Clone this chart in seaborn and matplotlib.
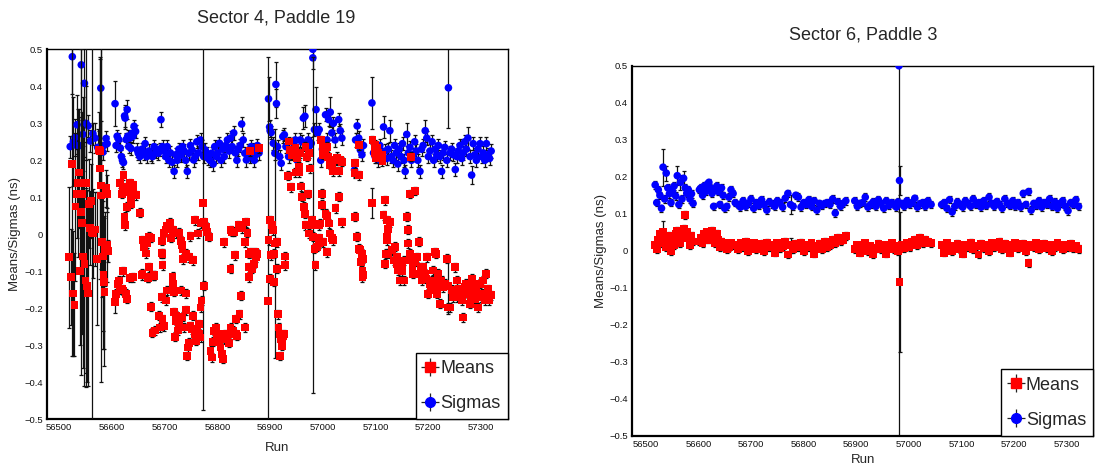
import numpy as np
import pandas as pd
import matplotlib
matplotlib.use("Agg")
import matplotlib.pyplot as plt
from matplotlib.ticker import MultipleLocator, FuncFormatter
import seaborn as sns

# ======================= Sector 4, Paddle 19 (left) =======================
L_MEAN_RUNS = [
    # noisy start
    56519, 56522, 56525, 56527, 56529, 56531, 56533, 56535, 56537, 56539,
    56541, 56543, 56544, 56546, 56548, 56550, 56551, 56553, 56555, 56557,
    56559, 56560, 56562, 56564, 56568, 56572, 56576, 56577, 56578, 56579,
    56580, 56581, 56583, 56584, 56585, 56586, 56587, 56589, 56590, 56591, 56592,
    # upper group 56615-56654
    56615, 56619, 56620, 56622, 56624, 56625, 56626, 56629, 56632, 56635,
    56636, 56637, 56640, 56641, 56645, 56654,
    # lower group 56606-56680
    56606, 56607, 56611, 56613, 56615, 56619, 56621, 56622, 56626, 56629,
    56634, 56640, 56657, 56668, 56671, 56680,
    # near-zero group 56658-56784
    56658, 56661, 56664, 56667, 56671, 56674, 56694, 56695, 56696, 56699,
    56702, 56705, 56710, 56712, 56716, 56722, 56727, 56731, 56733, 56734,
    56735, 56740, 56746, 56749, 56753, 56758, 56763, 56768, 56771, 56773,
    56775, 56778, 56781, 56784,
    # deep group 56658-56774
    56658, 56668, 56674, 56677, 56680, 56681, 56690, 56691, 56695, 56696,
    56696, 56699, 56702, 56705, 56715, 56716, 56718, 56718, 56719, 56721,
    56722, 56725, 56727, 56731, 56734, 56736, 56740, 56740, 56742, 56744,
    56746, 56749, 56752, 56754, 56757, 56759, 56762, 56765, 56766, 56768,
    56768, 56770, 56774,
    # deep group 56787-56853
    56787, 56789, 56792, 56794, 56797, 56800, 56803, 56806, 56809, 56811,
    56812, 56814, 56819, 56822, 56825, 56829, 56831, 56835, 56836, 56838,
    56842, 56844, 56853,
    # near-zero group 56812-56879
    56812, 56825, 56825, 56828, 56831, 56834, 56840, 56847, 56853, 56855,
    56857, 56859, 56860, 56860, 56862, 56863, 56866, 56868, 56869, 56872,
    56874, 56875, 56879,
    # 56896-56929
    56896, 56897, 56899, 56899, 56901, 56903, 56905, 56908, 56908, 56910,
    56913, 56913, 56915, 56916, 56918, 56918, 56920, 56922, 56923, 56924,
    56926, 56928, 56929,
    # 56934-57036
    56934, 56935, 56938, 56940, 56942, 56948, 56948, 56951, 56954, 56955,
    56957, 56959, 56961, 56964, 56966, 56967, 56967, 56970, 56972, 56973,
    56974, 56976, 56979, 56981, 56982, 56984, 56986, 56989, 56992, 56993,
    56993, 56995, 56997, 56998, 56999, 57000, 57001, 57001, 57005, 57005,
    57008, 57008, 57008, 57010, 57011, 57014, 57014, 57017, 57017, 57020,
    57020, 57024, 57024, 57027, 57030, 57031, 57033, 57036, 57036,
    # 57060-57093
    57060, 57061, 57061, 57065, 57068, 57068, 57068, 57071, 57073, 57074,
    57075, 57075, 57077, 57077, 57093,
    # high points 57094-57175
    57094, 57098, 57099, 57101, 57102, 57105, 57109, 57112, 57113, 57165,
    57167, 57175,
    # falling band 57115-57318
    57115, 57118, 57118, 57119, 57121, 57121, 57122, 57124, 57124, 57127,
    57131, 57134, 57137, 57140, 57140, 57143, 57146, 57150, 57150, 57153,
    57154, 57159, 57162, 57162, 57165, 57168, 57170, 57171, 57175, 57178,
    57182, 57184, 57185, 57187, 57190, 57194, 57195, 57197, 57200, 57203,
    57205, 57206, 57209, 57213, 57214, 57215, 57216, 57219, 57220, 57222,
    57225, 57228, 57231, 57235, 57237, 57238, 57241, 57245, 57247, 57250,
    57254, 57255, 57257, 57260, 57263, 57265, 57266, 57269, 57272, 57275,
    57279, 57280, 57282, 57285, 57288, 57290, 57291, 57294, 57298, 57300,
    57301, 57304, 57307, 57310, 57310, 57313, 57315, 57318,
]
L_MEANS = [
    -0.062, -0.116, 0.19, -0.16, -0.19, 0.075, 0.11, 0.138, 0.167, -0.1,
    0.06, 0.03, 0.11, -0.06, -0.08, -0.125, 0.138, -0.14, -0.16, 0.083,
    0.016, 0.09, 0.005, 0.003, 0.013, -0.066, 0.228, 0.225, 0.178, 0.132,
    0.105, -0.02, -0.06, -0.11, -0.13, -0.155, -0.04, 0.125, 0.11, -0.03, -0.045,
    0.138, 0.11, 0.128, 0.16, 0.047, 0.024, 0.128, 0.074, 0.115, 0.138,
    0.083, 0.1, 0.133, 0.125, 0.106, 0.058,
    -0.184, -0.161, -0.134, -0.125, -0.148, -0.148, -0.1, -0.152, -0.161, -0.175,
    -0.118, -0.116, -0.111, -0.118, -0.089, -0.111,
    -0.016, -0.034, -0.052, -0.025, -0.007, -0.01, -0.051, -0.017, -0.053, 0.004,
    0.013, 0.022, 0.031, -0.01, 0.011, 0.002, 0.004, -0.017, -0.03, -0.04,
    -0.067, -0.053, -0.062, -0.005, -0.07, 0.038, 0.002, 0.029, 0.03, 0.085,
    0.033, 0.02, 0.007, -0.007,
    -0.107, -0.116, -0.196, -0.266, -0.112, -0.26, -0.22, -0.252, -0.17, -0.23,
    -0.084, -0.248, -0.179, -0.152, -0.114, -0.134, -0.156, -0.21, -0.277, -0.22,
    -0.234, -0.26, -0.243, -0.152, -0.223, -0.252, -0.205, -0.16, -0.329, -0.306,
    -0.293, -0.248, -0.257, -0.22, -0.27, -0.288, -0.26, -0.243, -0.27, -0.279,
    -0.198, -0.179, -0.139,
    -0.315, -0.333, -0.29, -0.261, -0.252, -0.27, -0.288, -0.306, -0.324, -0.337,
    -0.284, -0.27, -0.275, -0.293, -0.252, -0.261, -0.27, -0.229, -0.27, -0.275,
    -0.216, -0.166, -0.252,
    -0.021, 0.011, -0.093, 0.007, 0.007, -0.057, 0.024, 0.016, -0.021, 0.033,
    0.004, -0.053, -0.089, -0.116, 0.224, -0.048, -0.093, -0.053, -0.08, -0.048,
    -0.062, -0.053, 0.233,
    -0.181, -0.016, 0.038, -0.12, -0.057, 0.024, 0.011, -0.053, -0.129, -0.025,
    -0.021, -0.093, -0.216, -0.252, -0.27, -0.329, -0.284, -0.29, -0.302, -0.275,
    -0.27, -0.084, -0.06,
    0.158, 0.251, 0.228, 0.127, 0.215, 0.233, 0.167, 0.206, 0.183, 0.167,
    0.219, 0.129, 0.101, 0.074, 0.056, 0.237, 0.024, 0.21, 0.109, 0.219,
    0.002, 0.178, 0.038, 0.025, -0.007, -0.039, -0.084, -0.034, -0.025, 0.024,
    -0.01, 0.029, 0.255, 0.11, 0.08, 0.233, 0.215, -0.021, 0.228, 0.056,
    0.237, 0.05, -0.048, 0.21, 0.029, 0.188, 0.002, 0.192, -0.01, 0.17,
    -0.016, 0.2, 0.07, 0.206, 0.17, 0.101, 0.2, 0.196, 0.033,
    0.165, 0.192, 0.047, -0.007, 0.241, 0.16, -0.039, -0.043, -0.075, -0.053,
    -0.098, -0.116, -0.066, -0.111, 0.085,
    0.255, 0.219, 0.242, 0.206, 0.233, 0.219, 0.21, 0.214, 0.197, 0.109,
    0.21, 0.117,
    0.052, 0.092, -0.08, -0.053, 0.038, -0.016, -0.007, 0.015, -0.053, 0.033,
    -0.043, -0.071, -0.034, -0.062, -0.08, -0.098, -0.125, -0.089, -0.1, -0.125,
    -0.071, 0.047, 0.012, -0.025, -0.053, -0.071, -0.09, -0.107, -0.075, -0.062,
    -0.02, -0.107, -0.09, -0.125, -0.089, -0.107, -0.12, -0.062, -0.161, -0.134,
    -0.14, -0.125, -0.098, -0.048, -0.053, -0.15, -0.161, -0.107, -0.13, -0.188,
    -0.125, -0.143, -0.134, -0.066, -0.14, -0.198, -0.198, -0.15, -0.17, -0.089,
    -0.125, -0.17, -0.148, -0.161, -0.179, -0.15, -0.225, -0.143, -0.134, -0.161,
    -0.188, -0.17, -0.12, -0.143, -0.175, -0.15, -0.161, -0.198, -0.134, -0.17,
    -0.161, -0.125, -0.179, -0.107, -0.16, -0.148, -0.179, -0.165,
]
L_MEAN_ERR_TYPICAL = 0.012
L_MEAN_BIG_RUNS = [
    56519, 56522, 56525, 56527, 56529, 56531, 56533, 56535, 56537, 56539,
    56541, 56543, 56544, 56546, 56548, 56550, 56551, 56553, 56555, 56557,
    56559, 56560, 56562, 56564, 56568, 56572, 56576, 56577, 56578, 56579,
    56580, 56581, 56583, 56584, 56585, 56586, 56587, 56589, 56590, 56591, 56592,
    56606, 56773, 56896, 56910, 56981, 57093, 57237,
]
L_MEAN_BIG_ERRS = [
    0.19, 0.13, 0.52, 0.17, 0.14, 0.2, 0.12, 0.2, 0.15, 0.2,
    0.44, 0.3, 0.2, 0.3, 0.33, 0.25, 0.55, 0.26, 0.25, 0.12,
    0.1, 0.1, 0.55, 0.12, 0.1, 0.18, 0.05, 0.25, 0.3, 0.53,
    0.2, 0.15, 0.2, 0.2, 0.18, 0.2, 0.1, 0.05, 0.05, 0.1, 0.03,
    0.03, 0.56, 0.66, 0.31, 0.455, 0.04, 0.075,
]

L_SIG_RUNS = [
    56521, 56525, 56527, 56530, 56534, 56535, 56538, 56542, 56545, 56548,
    56551, 56555, 56559, 56564, 56568, 56573, 56576, 56579, 56583, 56585,
    56589, 56591,
    56606, 56608, 56610, 56613, 56616, 56618, 56620, 56622, 56624, 56625,
    56627, 56629, 56630, 56632, 56634, 56636, 56638, 56640, 56642, 56645,
    56648, 56650, 56653, 56657, 56660, 56663, 56666, 56670, 56674, 56677,
    56680, 56684, 56688, 56691, 56693, 56696, 56699, 56702, 56705, 56708,
    56711, 56714, 56718, 56721, 56724, 56727, 56731, 56734, 56737, 56740,
    56743, 56746, 56749, 56752, 56755, 56758, 56761, 56764, 56768, 56771,
    56774, 56777, 56780, 56783, 56786, 56789, 56792, 56795, 56798, 56801,
    56804, 56807, 56810, 56813, 56816, 56819, 56822, 56825, 56828, 56831,
    56834, 56837, 56840, 56843, 56846, 56849, 56852, 56855, 56858, 56861,
    56864, 56867, 56870, 56873, 56876, 56879,
    56897, 56899, 56900, 56902, 56906, 56909, 56911, 56912, 56914, 56918,
    56921, 56924, 56927, 56930, 56935, 56940, 56945, 56948, 56951, 56954,
    56957, 56960, 56963, 56966, 56969, 56972, 56975, 56978, 56981, 56981,
    56984, 56987, 56990, 56993, 56996, 56999, 57002, 57005, 57008, 57011,
    57014, 57017, 57020, 57023, 57026, 57030, 57033, 57036,
    57060, 57062, 57065, 57068, 57071, 57074, 57077,
    57093, 57096, 57099, 57102, 57105, 57108, 57111, 57115, 57118, 57121,
    57124, 57127, 57130, 57133, 57136, 57139, 57142, 57145, 57148, 57151,
    57154, 57156, 57159, 57162, 57165, 57168, 57171, 57174, 57177, 57180,
    57184, 57187, 57190, 57194, 57197, 57200, 57203, 57207, 57210, 57213,
    57216, 57219, 57222, 57225, 57228, 57231, 57235, 57238, 57241, 57244,
    57247, 57251, 57254, 57257, 57260, 57263, 57266, 57269, 57272, 57275,
    57279, 57282, 57285, 57288, 57291, 57294, 57298, 57301, 57304, 57307,
    57310, 57313, 57316, 57319,
]
L_SIGMAS = [
    0.237, 0.48, 0.25, 0.262, 0.296, 0.237, 0.24, 0.458, 0.27, 0.408,
    0.3, 0.293, 0.252, 0.272, 0.26, 0.235, 0.23, 0.395, 0.222, 0.24,
    0.259, 0.245,
    0.353, 0.24, 0.265, 0.256, 0.233, 0.21, 0.2, 0.194, 0.32, 0.314,
    0.256, 0.337, 0.265, 0.237, 0.26, 0.232, 0.273, 0.265, 0.292, 0.278,
    0.228, 0.219, 0.21, 0.23, 0.22, 0.245, 0.21, 0.225, 0.215, 0.21,
    0.237, 0.225, 0.219, 0.23, 0.31, 0.237, 0.225, 0.21, 0.237, 0.2,
    0.22, 0.195, 0.17, 0.215, 0.2, 0.23, 0.214, 0.237, 0.225, 0.2,
    0.17, 0.219, 0.24, 0.228, 0.201, 0.21, 0.25, 0.22, 0.255, 0.237,
    0.21, 0.228, 0.219, 0.205, 0.2, 0.219, 0.19, 0.237, 0.21, 0.22,
    0.246, 0.2, 0.23, 0.21, 0.24, 0.255, 0.225, 0.26, 0.237, 0.274,
    0.22, 0.2, 0.23, 0.24, 0.298, 0.255, 0.219, 0.201, 0.225, 0.21,
    0.237, 0.228, 0.2, 0.215, 0.24, 0.22,
    0.366, 0.29, 0.28, 0.275, 0.246, 0.219, 0.405, 0.353, 0.237, 0.21,
    0.192, 0.264, 0.269, 0.237, 0.21, 0.22, 0.246, 0.255, 0.2, 0.219,
    0.255, 0.25, 0.314, 0.319, 0.246, 0.255, 0.24, 0.246, 0.5, 0.477,
    0.283, 0.337, 0.274, 0.283, 0.2, 0.23, 0.237, 0.323, 0.255, 0.31,
    0.33, 0.274, 0.3, 0.255, 0.205, 0.31, 0.28, 0.26,
    0.174, 0.255, 0.293, 0.26, 0.228, 0.215, 0.24,
    0.355, 0.22, 0.21, 0.23, 0.2, 0.24, 0.215, 0.29, 0.225, 0.205,
    0.23, 0.28, 0.21, 0.2, 0.24, 0.22, 0.19, 0.23, 0.21, 0.245,
    0.2, 0.17, 0.27, 0.22, 0.235, 0.2, 0.215, 0.25, 0.225, 0.2,
    0.17, 0.23, 0.24, 0.28, 0.26, 0.21, 0.225, 0.25, 0.2, 0.23,
    0.215, 0.24, 0.21, 0.17, 0.22, 0.235, 0.2, 0.396, 0.22, 0.23,
    0.215, 0.175, 0.21, 0.225, 0.24, 0.205, 0.22, 0.25, 0.23, 0.26,
    0.21, 0.16, 0.245, 0.215, 0.2, 0.23, 0.245, 0.21, 0.22, 0.2,
    0.245, 0.215, 0.205, 0.225,
]
L_SIG_ERR_TYPICAL = 0.018
L_SIG_BIG_RUNS = [
    56521, 56525, 56527, 56530, 56534, 56535, 56538, 56542, 56545, 56548,
    56551, 56555, 56559, 56564, 56568, 56573, 56576, 56579, 56583, 56585,
    56589, 56591,
    56606, 56624, 56625, 56629, 56693, 56846, 56897, 56911, 56912, 56963,
    56966, 56981, 56987, 57014, 57093, 57115, 57127, 57159, 57194, 57238,
    57275, 57282,
]
L_SIG_BIG_ERRS = [
    0.03, 0.1, 0.12, 0.05, 0.08, 0.06, 0.1, 0.3, 0.1, 0.2,
    0.1, 0.03, 0.03, 0.03, 0.04, 0.05, 0.1, 0.3, 0.02, 0.02,
    0.02, 0.02,
    0.06, 0.03, 0.03, 0.025, 0.02, 0.02, 0.06, 0.06, 0.04, 0.03,
    0.03, 0.03, 0.06, 0.04, 0.07, 0.03, 0.03, 0.03, 0.03, 0.11,
    0.03, 0.025,
]

# ======================= Sector 6, Paddle 3 (right) =======================
R_RUNS = [
    56518, 56521, 56524, 56527, 56530, 56533, 56536, 56539, 56542, 56545,
    56548, 56551, 56554, 56557, 56560, 56563, 56566, 56569, 56572, 56575,
    56578, 56581, 56584, 56587, 56590,
    56602, 56605, 56608, 56611, 56614, 56617, 56620, 56623, 56626, 56629,
    56632, 56635, 56638, 56641, 56644, 56647, 56650, 56654, 56658, 56662, 56666,
    56670, 56675, 56680, 56685, 56690, 56695, 56700, 56705, 56710, 56715,
    56720, 56725, 56730, 56735, 56740, 56745, 56750, 56755, 56760, 56765,
    56770, 56775, 56780, 56785, 56790, 56795, 56800, 56805, 56810, 56815,
    56820, 56825, 56830, 56835, 56840, 56845, 56850, 56855, 56860, 56865,
    56870, 56875, 56880,
    56897, 56902, 56907, 56912, 56917, 56922, 56927, 56932, 56937, 56942,
    56947, 56952, 56957, 56962, 56967, 56972, 56976, 56979, 56981, 56982,
    56986, 56991, 56996, 57001, 57006, 57011, 57016, 57021, 57026, 57031,
    57036, 57042,
    57062, 57067, 57072, 57077, 57082, 57087, 57092, 57097, 57102, 57107,
    57112, 57117, 57122, 57127, 57132, 57137, 57142, 57147, 57152, 57157,
    57162, 57167, 57172, 57177, 57182, 57187, 57192, 57197, 57202, 57207,
    57212, 57217, 57222, 57227, 57232, 57237, 57242, 57247, 57252, 57257,
    57262, 57267, 57272, 57277, 57282, 57287, 57292, 57297, 57302, 57307,
    57312, 57317, 57322,
]
R_MEANS = [
    0.015, 0.005, 0.03, 0.045, 0.02, 0.05, 0.035, 0.01, 0.025, 0.04,
    0.0, 0.03, 0.015, 0.045, 0.055, 0.03, 0.02, 0.04, 0.06, 0.097,
    0.05, 0.035, 0.015, 0.04, 0.025,
    0.025, 0.035, 0.02, 0.045, 0.03, 0.05, 0.04, 0.03, 0.055, 0.035,
    0.02, 0.045, 0.03, 0.01, 0.025, 0.02, 0.015, 0.005, 0.01, 0.02, 0.015,
    0.015, 0.005, 0.02, 0.01, 0.025, 0.0, 0.015, 0.02, 0.005, 0.012,
    0.018, 0.0, 0.022, 0.01, 0.015, -0.005, 0.02, 0.008, 0.012, 0.025,
    -0.01, 0.015, 0.005, 0.018, 0.01, 0.022, 0.0, 0.015, 0.01, 0.02,
    -0.008, 0.012, 0.018, 0.005, 0.025, 0.01, 0.015, 0.03, 0.02, 0.035,
    0.025, 0.03, 0.04,
    0.005, 0.015, -0.005, 0.01, 0.02, 0.0, 0.012, -0.01, 0.008, 0.018,
    0.005, 0.015, -0.008, 0.01, 0.02, 0.005, 0.012, 0.0, 0.005, -0.084,
    0.015, 0.008, 0.02, 0.01, 0.025, 0.03, 0.015, 0.035, 0.02, 0.03,
    0.025, 0.02,
    0.015, -0.005, 0.02, 0.01, 0.0, 0.012, 0.018, 0.005, -0.008, 0.015,
    0.01, 0.022, 0.005, 0.012, -0.01, 0.018, 0.008, 0.015, 0.0, 0.02,
    0.01, 0.012, 0.025, 0.005, 0.018, 0.01, -0.005, 0.015, 0.02, 0.008,
    0.012, 0.018, 0.0, -0.033, 0.015, 0.01, 0.02, 0.005, 0.012, 0.018,
    0.008, 0.015, 0.0, 0.01, 0.02, 0.012, 0.005, 0.015, 0.01, 0.018,
    0.008, 0.012, 0.005,
]
R_SIGMAS = [
    0.178, 0.13, 0.165, 0.15, 0.115, 0.226, 0.14, 0.21, 0.17, 0.154,
    0.13, 0.16, 0.175, 0.148, 0.203, 0.125, 0.185, 0.14, 0.196, 0.17,
    0.155, 0.165, 0.14, 0.154, 0.128,
    0.165, 0.17, 0.15, 0.175, 0.16, 0.18, 0.185, 0.17, 0.155, 0.12,
    0.165, 0.175, 0.16, 0.125, 0.17, 0.15, 0.115, 0.12, 0.145, 0.165, 0.155,
    0.13, 0.125, 0.118, 0.135, 0.12, 0.128, 0.14, 0.115, 0.13, 0.122,
    0.138, 0.125, 0.11, 0.132, 0.127, 0.12, 0.135, 0.13, 0.118, 0.142,
    0.155, 0.125, 0.12, 0.15, 0.145, 0.118, 0.13, 0.125, 0.138, 0.12,
    0.135, 0.11, 0.128, 0.122, 0.128, 0.13, 0.125, 0.14, 0.102, 0.132,
    0.12, 0.128, 0.135,
    0.135, 0.12, 0.128, 0.13, 0.145, 0.118, 0.125, 0.132, 0.12, 0.138,
    0.128, 0.115, 0.135, 0.122, 0.13, 0.125, 0.118, 0.132, 0.5, 0.19,
    0.128, 0.12, 0.135, 0.125, 0.13, 0.142, 0.118, 0.127, 0.13, 0.12,
    0.135, 0.125,
    0.125, 0.13, 0.115, 0.138, 0.105, 0.12, 0.132, 0.125, 0.118, 0.135,
    0.128, 0.12, 0.14, 0.125, 0.13, 0.118, 0.135, 0.122, 0.145, 0.128,
    0.12, 0.133, 0.125, 0.115, 0.14, 0.128, 0.122, 0.135, 0.12, 0.13,
    0.118, 0.155, 0.125, 0.16, 0.11, 0.128, 0.122, 0.135, 0.118, 0.13,
    0.125, 0.14, 0.12, 0.132, 0.115, 0.128, 0.135, 0.12, 0.108, 0.13,
    0.125, 0.138, 0.12,
]
R_MEAN_ERR_TYPICAL = 0.01
R_MEAN_BIG_RUNS = [56533, 56775, 56982]
R_MEAN_BIG_ERRS = [0.03, 0.02, 0.19]
R_SIG_ERR_TYPICAL = 0.01
R_SIG_BIG_RUNS = [56533, 56539, 56560, 56566, 56572, 56775, 56981, 56982]
R_SIG_BIG_ERRS = [0.05, 0.02, 0.025, 0.02, 0.02, 0.025, 1.0, 0.04]

TITLES = ["Sector 4, Paddle 19", "Sector 6, Paddle 3"]
X_TICKS = [56500, 56600, 56700, 56800, 56900, 57000, 57100, 57200, 57300]
Y_TICKS = [-0.5, -0.4, -0.3, -0.2, -0.1, 0.0, 0.1, 0.2, 0.3, 0.4, 0.5]


def build_errors(runs, typical, big_runs, big_errs):
    lookup = dict(zip(big_runs, big_errs))
    return [lookup.get(r, typical) for r in runs]


def frame(runs, vals, errs):
    return pd.DataFrame({"run": runs, "val": vals, "err": errs})


# ------------------------------- style -----------------------------------
sns.set_theme(style="white")
plt.rcParams["font.family"] = ["Liberation Sans", "DejaVu Sans"]
plt.rcParams["axes.unicode_minus"] = True

fig = plt.figure(figsize=(10.95, 4.68), dpi=100)
ax_l = fig.add_axes([47 / 1095, 1 - 419.3 / 468, 460.5 / 1095, 370 / 468])
ax_r = fig.add_axes([632 / 1095, 1 - 435.8 / 468, 461.3 / 1095, 370 / 468])

panels = [
    (ax_l,
     frame(L_MEAN_RUNS, L_MEANS, build_errors(L_MEAN_RUNS, L_MEAN_ERR_TYPICAL, L_MEAN_BIG_RUNS, L_MEAN_BIG_ERRS)),
     frame(L_SIG_RUNS, L_SIGMAS, build_errors(L_SIG_RUNS, L_SIG_ERR_TYPICAL, L_SIG_BIG_RUNS, L_SIG_BIG_ERRS)),
     (56477, 57350)),
    (ax_r,
     frame(R_RUNS, R_MEANS, build_errors(R_RUNS, R_MEAN_ERR_TYPICAL, R_MEAN_BIG_RUNS, R_MEAN_BIG_ERRS)),
     frame(R_RUNS, R_SIGMAS, build_errors(R_RUNS, R_SIG_ERR_TYPICAL, R_SIG_BIG_RUNS, R_SIG_BIG_ERRS)),
     (56474, 57350)),
]


def fmt_y(v, _):
    if abs(v) < 1e-9:
        return "0"
    s = f"{abs(v):g}"
    return ("\u2212" + s) if v < 0 else s


for ax, dmean, dsig, xlim in panels:
    ax.errorbar(dsig["run"], dsig["val"], yerr=dsig["err"], fmt="none",
                ecolor="#111111", elinewidth=0.9, capsize=1.6, capthick=0.9, zorder=2)
    sns.scatterplot(data=dsig, x="run", y="val", marker="o", s=30, color="#0000ff",
                    edgecolor="none", linewidth=0, legend=False, ax=ax, zorder=3)
    ax.errorbar(dmean["run"], dmean["val"], yerr=dmean["err"], fmt="none",
                ecolor="#111111", elinewidth=0.9, capsize=1.6, capthick=0.9, zorder=4)
    sns.scatterplot(data=dmean, x="run", y="val", marker="s", s=32, color="#ff0000",
                    edgecolor="none", linewidth=0, legend=False, ax=ax, zorder=5)

    ax.set_xlim(*xlim)
    ax.set_ylim(-0.5, 0.5)
    ax.set_xticks(X_TICKS)
    ax.set_xticklabels([str(t) for t in X_TICKS])
    ax.xaxis.set_minor_locator(MultipleLocator(20))
    ax.set_yticks(Y_TICKS)
    ax.yaxis.set_major_formatter(FuncFormatter(fmt_y))
    ax.yaxis.set_minor_locator(MultipleLocator(0.02))
    ax.tick_params(axis="both", which="both", direction="in", colors="#111111",
                   labelsize=6.8, top=False, right=False, width=0.9)
    ax.tick_params(axis="y", which="major", length=10.5, pad=3)
    ax.tick_params(axis="y", which="minor", length=5.2)
    ax.tick_params(axis="x", which="major", length=8, pad=3)
    ax.tick_params(axis="x", which="minor", length=4)
    for name, sp in ax.spines.items():
        sp.set_color("black")
        sp.set_linewidth(1.6 if name in ("left", "bottom") else 1.0)
    ax.grid(False)

    ax.set_xlabel("Run", fontsize=9.5)
    ax.set_ylabel("Means/Sigmas (ns)", fontsize=9.5)

    hm = ax.errorbar([np.nan], [np.nan], xerr=[1], yerr=[1], fmt="s", ms=7,
                     color="#ff0000", ecolor="#222222", elinewidth=0.9, capsize=0)
    hs = ax.errorbar([np.nan], [np.nan], xerr=[1], yerr=[1], fmt="o", ms=7,
                     color="#0000ff", ecolor="#222222", elinewidth=0.9, capsize=0)
    leg = ax.legend([hm, hs], ["Means", "Sigmas"], loc="lower right",
                    bbox_to_anchor=(1.0, 0.0), borderaxespad=0, frameon=True,
                    fancybox=False, shadow=False, fontsize=13, handlelength=0.8,
                    handletextpad=0.15, labelspacing=1.0, borderpad=0.4)
    leg.get_frame().set_edgecolor("black")
    leg.get_frame().set_linewidth(1.0)
    leg.get_frame().set_alpha(1.0)

ax_l.xaxis.set_label_coords(0.5, -0.062)
ax_l.yaxis.set_label_coords(-0.057, 0.5)
ax_r.xaxis.set_label_coords(0.5, -0.05)
ax_r.yaxis.set_label_coords(-0.055, 0.5)

fig.text(276 / 1095, 1 - 18 / 468, TITLES[0], ha="center", va="center", fontsize=13)
fig.text(863 / 1095, 1 - 35 / 468, TITLES[1], ha="center", va="center", fontsize=13)

fig.savefig("out.png", dpi=100, facecolor="white")
